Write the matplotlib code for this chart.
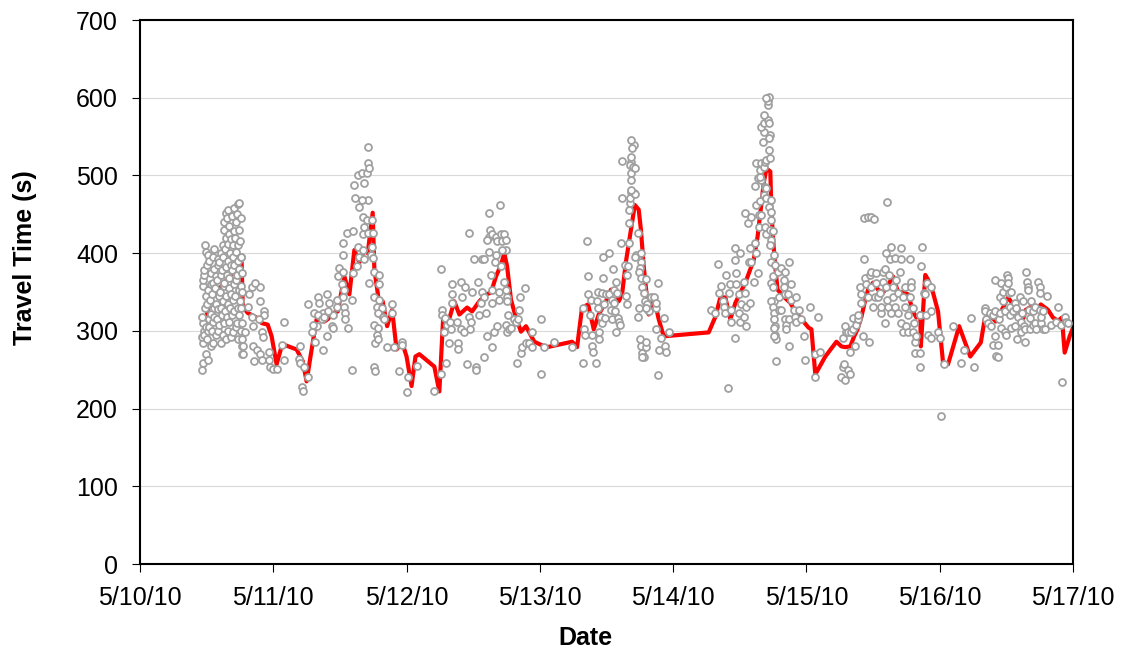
import numpy as np
import matplotlib
matplotlib.use('Agg')
import matplotlib.pyplot as plt
import matplotlib.dates as mdates
from matplotlib.ticker import FuncFormatter, MultipleLocator
from datetime import datetime

plt.rcParams['font.family'] = ['Liberation Sans', 'DejaVu Sans']

START = datetime(2010, 5, 10)

# observed travel times: (hours since 5/10/10 00:00, seconds)
may10_obs = [
    (11.2, 250), (11.3, 258), (11.4, 285), (11.2, 292), (11.5, 300), (11.3, 310), (11.2, 318), (11.4, 358), (11.3, 365), (11.5, 372),
    (11.8, 270), (11.6, 295), (11.9, 305), (11.7, 330), (11.8, 345), (11.6, 378), (11.9, 402), (11.7, 410),
    (12.3, 262), (12.1, 290), (12.2, 300), (12.4, 315), (12.0, 335), (12.3, 352), (12.1, 385), (12.2, 398),
    (12.7, 280), (12.5, 305), (12.8, 322), (12.6, 340), (12.7, 360), (12.5, 390), (12.8, 375),
    (13.2, 285), (13.0, 300), (13.1, 312), (13.3, 330), (13.0, 348), (13.2, 362), (13.1, 395), (13.3, 405),
    (13.6, 295), (13.4, 318), (13.7, 335), (13.5, 355), (13.6, 370), (13.4, 380),
    (14.1, 300), (13.9, 315), (14.0, 328), (14.2, 345), (13.9, 365), (14.1, 385), (14.0, 392),
    (14.5, 285), (14.3, 308), (14.6, 330), (14.4, 350), (14.5, 372), (14.3, 388), (14.6, 400),
    (15.0, 295), (14.8, 320), (14.9, 338), (15.1, 358), (14.8, 378), (15.0, 395), (14.9, 410), (15.1, 430),
    (15.4, 290), (15.2, 310), (15.3, 325), (15.5, 345), (15.2, 362), (15.4, 382), (15.3, 405), (15.5, 420), (15.2, 440), (15.4, 452),
    (15.9, 300), (15.7, 318), (15.8, 335), (16.0, 355), (15.7, 372), (15.9, 390), (15.8, 412), (16.0, 425), (15.7, 445), (15.9, 455),
    (16.3, 292), (16.1, 312), (16.2, 330), (16.4, 348), (16.1, 368), (16.3, 385), (16.2, 400), (16.4, 418), (16.1, 435),
    (16.8, 298), (16.6, 320), (16.7, 340), (16.9, 360), (16.6, 378), (16.8, 395), (16.7, 410), (16.9, 428), (16.6, 448),
    (17.2, 305), (17.0, 325), (17.1, 345), (17.3, 365), (17.0, 385), (17.2, 402), (17.1, 420), (17.3, 440), (17.0, 458),
    (17.7, 290), (17.5, 310), (17.6, 330), (17.8, 352), (17.5, 372), (17.7, 390), (17.6, 410), (17.8, 430), (17.5, 450), (17.7, 463),
    (18.1, 300), (17.9, 320), (18.0, 338), (18.2, 358), (17.9, 380), (18.1, 395), (18.0, 415), (18.2, 445), (17.9, 465),
    (18.4, 270), (18.3, 280), (18.4, 290), (18.3, 310), (18.2, 330), (18.4, 350), (18.3, 375), (18.2, 395),
    (18.5, 280), (18.5, 270), (18.9, 298), (20.1, 357), (21.6, 357), (20.7, 362), (19.6, 347), (19.4, 331),
    (20.1, 318), (21.6, 338), (22.4, 325), (22.3, 321), (21.4, 315), (20.3, 306), (21.9, 298), (22.1, 292),
    (20.4, 280), (21.0, 276), (21.6, 270), (20.5, 261), (21.9, 263), (23.2, 273), (23.3, 263), (23.4, 253),
    (23.9, 251), (24.6, 251), (26.0, 311), (25.5, 282), (26.0, 263), (28.9, 280), (28.7, 264), (28.9, 259),
    (29.6, 254), (29.1, 228), (29.3, 223), (30.2, 241), (30.9, 298), (30.2, 334), (31.6, 286), (31.8, 306),
    (32.0, 344), (31.4, 323), (32.3, 336), (32.9, 323), (33.0, 275), (33.6, 347), (33.6, 293), (34.1, 336),
    (34.5, 306), (34.7, 321), (35.4, 331), (35.4, 340), (35.6, 370), (34.7, 304), (32.0, 321), (31.1, 308),
    (32.7, 315), (33.2, 318), (33.8, 325),
]

may11_obs = [
    (36.5, 413), (36.5, 398), (37.2, 426), (35.9, 381), (36.6, 376), (36.3, 360), (36.8, 353), (36.5, 344),
    (36.8, 331), (36.9, 323), (37.0, 315), (37.4, 304), (38.1, 340), (38.1, 250), (38.4, 428), (38.3, 375),
    (39.0, 383), (38.6, 488), (38.7, 471), (39.2, 501), (39.9, 503), (40.4, 490), (40.8, 503), (41.0, 516),
    (41.1, 537), (41.3, 510), (41.1, 469), (39.9, 469), (39.5, 460), (40.1, 447), (40.4, 434), (40.1, 424),
    (40.8, 443), (41.0, 426), (41.7, 443), (41.9, 426), (39.3, 408), (39.5, 395), (40.1, 404), (40.4, 392),
    (41.7, 408), (41.6, 398), (41.9, 394), (41.3, 362), (42.2, 376), (43.1, 372), (43.0, 360), (42.2, 344),
    (43.1, 340), (42.6, 331), (43.5, 330), (42.8, 323), (43.7, 318), (44.0, 315), (42.2, 308), (42.9, 304),
    (42.6, 295), (42.4, 285), (42.8, 289), (42.2, 254), (42.3, 248), (45.3, 334), (45.3, 323), (44.5, 279),
    (45.8, 279), (47.1, 286), (47.2, 282), (46.7, 248), (48.3, 241), (48.0, 221), (49.9, 255), (53.0, 222),
]

may12_obs = [
    (54.2, 245), (54.2, 380), (54.4, 327), (54.4, 321), (55.0, 317), (54.8, 298), (55.3, 308), (55.9, 312),
    (56.0, 302), (55.7, 285), (55.1, 259), (56.2, 336), (56.2, 347), (56.2, 360), (57.1, 312), (57.3, 285),
    (57.3, 277), (57.8, 363), (58.0, 343), (57.8, 302), (58.4, 298), (58.6, 357), (58.9, 257), (59.3, 318),
    (59.6, 312), (59.5, 302), (59.3, 426), (59.8, 350), (60.2, 392), (60.5, 254), (60.5, 249), (60.9, 363),
    (61.1, 321), (61.6, 392), (62.0, 392), (61.6, 350), (62.0, 343), (61.4, 336), (62.3, 323), (62.0, 266),
    (62.5, 293), (62.9, 452), (63.1, 430), (62.9, 421), (62.5, 417), (62.9, 402), (63.4, 424), (63.2, 372),
    (63.4, 353), (63.4, 336), (63.4, 279), (63.8, 298), (64.1, 421), (64.1, 398), (64.0, 388), (64.3, 415),
    (64.3, 306), (64.8, 462), (65.0, 424), (65.2, 415), (65.6, 424), (65.9, 417), (65.9, 404), (65.2, 404),
    (65.0, 383), (64.7, 350), (64.7, 340), (65.6, 363), (65.9, 353), (66.1, 344), (66.1, 338), (66.3, 321),
    (65.9, 308), (66.1, 298), (66.5, 302), (66.8, 304), (67.4, 315), (67.7, 312), (68.1, 315), (68.3, 327),
    (68.4, 344), (69.3, 355), (67.9, 259), (68.6, 271), (68.8, 279), (69.5, 284), (70.1, 285), (70.6, 279),
    (70.6, 298), (72.2, 315), (72.2, 244), (72.8, 279), (74.6, 286), (77.8, 279),
]

may13_obs = [
    (79.8, 259), (79.9, 302), (80.1, 295), (79.8, 329), (80.7, 370), (80.7, 348), (81.2, 340), (81.0, 321),
    (81.4, 295), (81.4, 280), (81.5, 273), (82.1, 259), (80.5, 415), (82.4, 350), (82.3, 338), (82.4, 330),
    (82.6, 299), (82.6, 289), (83.0, 318), (83.2, 310), (83.2, 349), (83.3, 368), (83.3, 395), (83.5, 334),
    (83.7, 317), (83.9, 347), (84.4, 400), (84.4, 347), (84.8, 327), (85.0, 340), (85.0, 315), (85.1, 380),
    (85.3, 353), (85.3, 336), (85.5, 325), (85.7, 363), (85.7, 299), (85.9, 349), (86.0, 317), (86.2, 312),
    (86.4, 308), (86.6, 413), (86.8, 471), (86.8, 519), (87.3, 385), (87.7, 372), (87.7, 334), (87.5, 345),
    (87.8, 383), (88.0, 413), (88.0, 439), (88.0, 456), (88.2, 465), (88.4, 479), (88.3, 471), (88.5, 494),
    (88.5, 503), (88.4, 517), (88.3, 513), (88.7, 511), (88.5, 524), (88.9, 539), (88.5, 546), (88.6, 535),
    (89.1, 509), (88.9, 478), (89.2, 476), (88.5, 481), (89.4, 398), (89.2, 395), (89.6, 426), (89.6, 318),
    (89.8, 330), (90.2, 400), (90.2, 388), (90.1, 381), (89.8, 376), (90.2, 368), (90.4, 357), (90.7, 349),
    (90.9, 338), (91.1, 367), (91.3, 334), (91.4, 327), (91.6, 325), (91.1, 330), (90.0, 289), (90.2, 280),
    (90.4, 272), (90.7, 267), (91.1, 279), (91.1, 286), (90.4, 266), (92.1, 344), (92.5, 344), (92.9, 330),
    (92.9, 336), (93.2, 361), (93.0, 303), (93.4, 276), (93.2, 243), (93.9, 291), (94.3, 317), (94.5, 280),
    (94.7, 273), (95.2, 298),
]

may14_obs = [
    (102.9, 327), (103.6, 323), (104.0, 386), (104.2, 349), (104.7, 358), (104.9, 338), (105.1, 331), (105.4, 323),
    (105.6, 372), (105.8, 226), (106.0, 349), (106.3, 360), (106.5, 327), (106.5, 312), (107.2, 407), (107.2, 391),
    (107.2, 291), (107.4, 375), (107.4, 360), (107.8, 347), (107.8, 323), (108.1, 400), (108.1, 311), (108.3, 334),
    (108.7, 363), (108.7, 318), (109.0, 349), (109.2, 306), (109.2, 331), (108.9, 452), (109.4, 439), (110.1, 447),
    (109.9, 407), (109.6, 389), (110.1, 389), (109.9, 336), (110.5, 363), (111.2, 375), (111.0, 400), (110.8, 413),
    (111.4, 434), (111.0, 462), (111.7, 467), (111.4, 449), (111.9, 449), (110.8, 487), (111.2, 497), (111.0, 516),
    (111.7, 507), (111.9, 516), (111.9, 494), (112.3, 511), (112.6, 517), (112.8, 520), (113.5, 522), (113.3, 533),
    (113.5, 552), (113.2, 548), (112.1, 543), (112.3, 556), (111.9, 562), (112.4, 567), (113.0, 571), (113.2, 567),
    (112.3, 578), (113.0, 590), (113.0, 596), (113.2, 601), (112.8, 599), (112.6, 485), (112.8, 484), (111.7, 498),
    (112.3, 475), (112.8, 471), (113.2, 460), (112.6, 434), (112.8, 424), (113.5, 430), (113.7, 469), (113.7, 453),
    (113.6, 443), (113.7, 417), (113.9, 428), (113.5, 411), (114.1, 398), (113.7, 389), (114.4, 385), (113.9, 370),
    (113.7, 362), (113.9, 356), (114.1, 338), (113.7, 338), (113.9, 331), (114.1, 323), (114.2, 315), (114.4, 306),
    (114.1, 304), (114.4, 295), (114.6, 289), (114.2, 293), (114.6, 261), (115.0, 327), (115.0, 344), (114.8, 376),
    (115.5, 381), (116.2, 376), (116.8, 388), (115.9, 366), (115.9, 357), (116.2, 347), (117.3, 360), (116.6, 347),
    (117.3, 340), (115.5, 327), (116.2, 315), (116.4, 308), (116.4, 302), (116.9, 315), (116.9, 281), (117.7, 327),
    (118.0, 318), (118.2, 311), (118.2, 343), (118.6, 327), (119.1, 315), (119.6, 293), (119.8, 263),
]

may15_obs = [
    (120.7, 331), (122.1, 318), (121.6, 270), (122.5, 273), (121.6, 241), (126.3, 240), (126.6, 253), (127.0, 237),
    (127.4, 250), (127.9, 244), (126.8, 257), (126.6, 291), (127.2, 298), (127.0, 306), (127.5, 298), (127.9, 273),
    (128.1, 298), (128.4, 317), (128.8, 280), (128.4, 302), (129.0, 308), (129.3, 315), (129.3, 321), (129.7, 357),
    (129.9, 336), (129.9, 347), (130.2, 293), (130.4, 392), (130.4, 445), (131.0, 447), (131.7, 447), (132.2, 444),
    (130.6, 368), (130.8, 360), (131.1, 344), (131.5, 372), (131.3, 286), (131.7, 376), (131.7, 357), (132.0, 331),
    (132.4, 344), (132.6, 375), (132.6, 362), (132.9, 343), (133.3, 349), (133.5, 323), (133.5, 331), (133.7, 376),
    (133.8, 363), (134.2, 379), (134.2, 310), (134.4, 356), (134.5, 340), (134.7, 331), (134.5, 466), (134.4, 400),
    (134.9, 372), (135.1, 392), (135.3, 408), (135.3, 323), (135.6, 344), (135.6, 357), (136.0, 394), (136.0, 331),
    (136.2, 366), (136.5, 349), (136.5, 323), (136.8, 376), (137.0, 407), (137.0, 392), (137.0, 310), (137.4, 344),
    (137.4, 298), (137.8, 331), (137.8, 357), (137.9, 306), (138.3, 321), (138.3, 298), (138.7, 392), (138.7, 344),
    (138.9, 363), (138.9, 357), (139.2, 330), (139.2, 298), (139.4, 310), (139.6, 286), (139.6, 272), (139.8, 293),
    (140.5, 321), (140.5, 272), (140.5, 254), (140.6, 383), (140.8, 408), (141.2, 349), (141.4, 347), (141.6, 321),
    (141.7, 362), (141.9, 295), (142.4, 356), (142.4, 325), (142.4, 291), (143.7, 299), (144.1, 291), (144.8, 257),
    (144.2, 191),
]

may16_obs = [
    (146.4, 306), (147.8, 258), (148.4, 275), (149.6, 317), (150.2, 253), (152.1, 330), (152.2, 325), (152.3, 315),
    (152.7, 310), (153.0, 323), (153.2, 306), (153.6, 321), (153.6, 282), (153.9, 293), (153.9, 325), (153.9, 366),
    (154.1, 268), (154.5, 282), (154.5, 267), (154.7, 315), (154.8, 344), (154.8, 323), (155.0, 362), (155.0, 304),
    (155.4, 350), (155.4, 338), (155.7, 325), (155.7, 298), (155.9, 295), (155.9, 356), (156.1, 372), (156.3, 368),
    (156.3, 362), (156.5, 349), (156.6, 331), (156.6, 321), (156.8, 350), (156.8, 304), (157.2, 325), (157.5, 336),
    (157.5, 306), (157.7, 330), (157.9, 289), (158.1, 318), (158.4, 343), (158.6, 298), (158.6, 312), (158.8, 323),
    (159.0, 338), (159.2, 306), (159.3, 286), (159.3, 302), (159.5, 376), (159.7, 363), (159.9, 357), (159.9, 353),
    (160.0, 327), (160.2, 317), (160.2, 302), (160.4, 338), (160.8, 325), (160.8, 308), (161.1, 331), (161.1, 310),
    (161.3, 302), (161.7, 363), (162.0, 356), (162.0, 349), (162.0, 327), (162.2, 310), (162.2, 318), (162.6, 302),
    (162.6, 325), (162.9, 302), (163.3, 345), (164.0, 308), (164.9, 312), (165.3, 331), (165.8, 308), (166.0, 234),
    (166.5, 318), (166.7, 312), (167.1, 310),
]

# smoothed travel time
avg_hours = [
    11.7, 12.6, 18.3, 18.5, 19.4, 21.0, 21.9, 23.0, 23.7, 24.6, 25.5, 26.0, 28.2, 29.3, 30.0, 30.7,
    31.8, 33.2, 33.8, 34.8, 35.6, 36.8, 37.7, 38.6, 39.5, 40.4, 41.0, 41.9, 42.2, 42.8, 43.3, 43.7,
    44.5, 45.4, 46.2, 47.2, 48.0, 48.9, 49.6, 50.3, 53.0, 53.9, 54.6, 55.3, 56.6, 57.5, 58.9, 59.8,
    61.1, 62.3, 63.2, 64.1, 65.0, 65.6, 66.1, 66.8, 67.7, 68.6, 69.5, 70.1, 71.0, 72.2, 73.3, 77.8,
    78.7, 79.6, 80.7, 81.7, 82.6, 83.9, 84.8, 85.7, 86.2, 86.8, 87.5, 88.4, 89.1, 89.8, 90.2, 90.7,
    91.1, 91.6, 92.2, 92.9, 93.4, 94.3, 102.4, 103.6, 104.5, 105.4, 106.3, 107.2, 109.0, 110.5, 111.2, 111.9,
    112.3, 112.8, 113.5, 113.7, 114.1, 114.4, 114.8, 115.9, 117.1, 118.0, 119.1, 120.4, 120.9, 121.6, 123.4, 125.4,
    126.3, 127.0, 127.9, 128.6, 129.2, 129.9, 130.6, 131.1, 132.0, 132.9, 133.8, 134.7, 135.6, 136.5, 137.4, 138.3,
    139.2, 139.8, 140.5, 140.6, 141.4, 141.9, 142.8, 143.7, 144.6, 145.5, 147.5, 149.5, 151.4, 152.1, 153.0, 154.1,
    155.4, 156.3, 157.2, 158.1, 159.0, 159.5, 160.4, 161.3, 162.2, 163.5, 164.4, 165.3, 166.0, 166.5, 167.4, 168.0,
]
avg_secs = [
    310, 340, 388, 331, 323, 317, 310, 308, 293, 257, 280, 282, 276, 261, 235, 267,
    315, 312, 315, 323, 325, 370, 347, 404, 388, 404, 400, 452, 379, 349, 318, 338,
    306, 327, 276, 285, 267, 229, 267, 270, 254, 222, 318, 306, 338, 321, 330, 325,
    338, 347, 349, 370, 385, 400, 383, 340, 317, 299, 306, 298, 286, 282, 279, 286,
    279, 330, 334, 302, 321, 338, 353, 353, 338, 347, 389, 430, 462, 456, 430, 383,
    356, 321, 336, 331, 315, 293, 298, 318, 343, 343, 315, 336, 362, 391, 421, 464,
    490, 509, 505, 452, 408, 382, 353, 344, 336, 325, 315, 304, 302, 244, 267, 286,
    280, 279, 280, 293, 302, 318, 340, 353, 362, 353, 349, 359, 370, 350, 350, 347,
    325, 317, 323, 280, 372, 366, 349, 325, 259, 257, 306, 267, 285, 315, 321, 312,
    330, 343, 334, 330, 315, 327, 331, 325, 334, 327, 317, 313, 317, 272, 293, 304,
]

y_ticks = np.arange(0, 701, 100)


def to_dates(hours):
    return mdates.date2num(START) + np.asarray(hours, dtype=float) / 24.0


def date_label(v, pos):
    d = mdates.num2date(v)
    return f"{d.month}/{d.day}/{d:%y}"


obs = np.array(may10_obs + may11_obs + may12_obs + may13_obs
               + may14_obs + may15_obs + may16_obs)

fig = plt.figure(figsize=(11.23, 6.54), dpi=100)
ax = fig.add_axes([140 / 1123, 1 - 564 / 654, 933 / 1123, 544 / 654])

ax.plot(to_dates(avg_hours), avg_secs, color='#FF0000', lw=3,
        solid_joinstyle='round', zorder=2)
ax.plot(to_dates(obs[:, 0]), obs[:, 1], ls='none', marker='o', ms=5.0,
        mfc='white', mec='#A0A0A0', mew=1.3, zorder=3)

ax.set_ylim(0, 700)
ax.set_yticks(y_ticks)
ax.set_xlim(to_dates([0, 168]))
ax.xaxis.set_major_locator(mdates.DayLocator())
ax.xaxis.set_major_formatter(FuncFormatter(date_label))

ax.grid(axis='y', color='#D9D9D9', lw=0.8)
ax.set_axisbelow(True)
for s in ax.spines.values():
    s.set_linewidth(1.5)
    s.set_color('black')
ax.tick_params(labelsize=18, length=5.8, width=0.8, pad=10)

ax.set_xlabel('Date', fontsize=18, fontweight='bold', va='center')
ax.set_ylabel('Travel Time (s)', fontsize=18, fontweight='bold', va='center')
ax.xaxis.set_label_coords(0.477, -0.136)
ax.yaxis.set_label_coords(-0.1233, 0.5625)

fig.savefig('out.png', dpi=100)
